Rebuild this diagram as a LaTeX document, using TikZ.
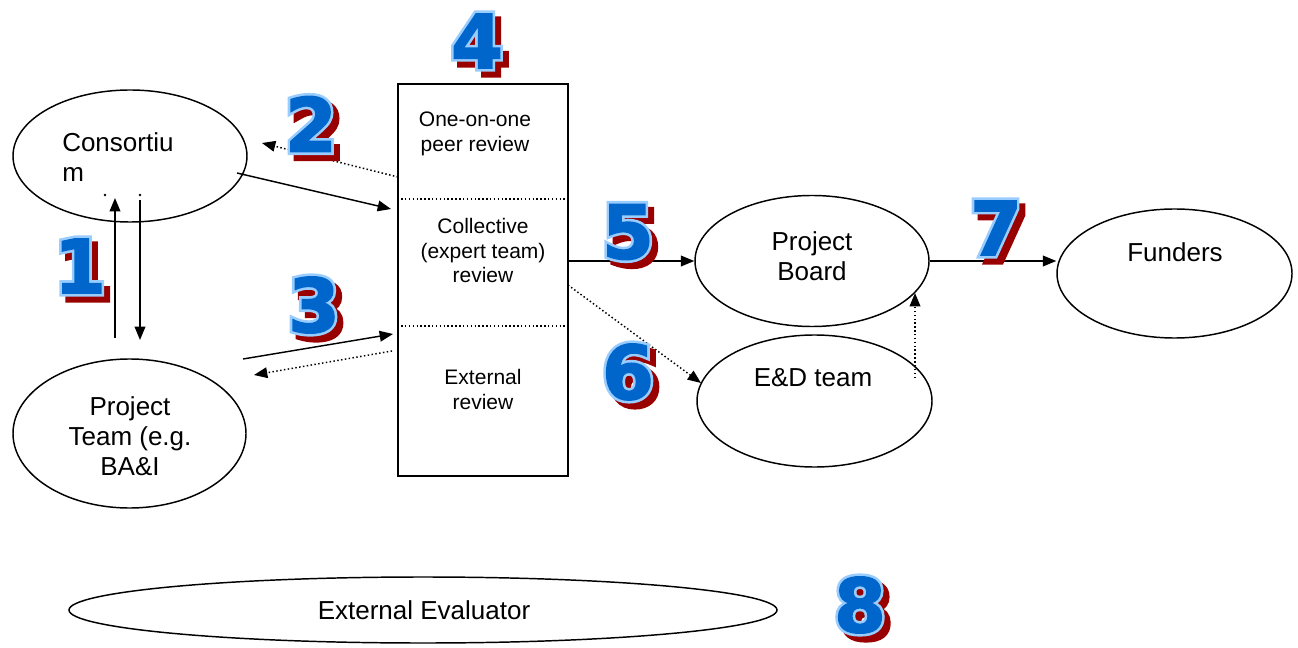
\documentclass[tikz,border=0pt]{standalone}
\usepackage{fontspec}
\setmainfont{Liberation Sans}
\newfontfamily\numfacefont{DejaVu Sans}[BoldFeatures={FakeBold=2}]
\newfontfamily\numrimfont{DejaVu Sans}[BoldFeatures={FakeBold=9}]
\usetikzlibrary{shapes.geometric,arrows.meta,calc}

\definecolor{numblue}{HTML}{0066CC}
\definecolor{numrim}{HTML}{99CCFF}
\definecolor{numred}{HTML}{990000}

\tikzset{
  oval/.style={draw, ellipse, line width=1.1pt, inner sep=0pt},
  reviewbox/.style={draw, line width=1.2pt, inner sep=0pt},
  bigtxt/.style={inner sep=0pt, font=\fontsize{19.5}{22.5}\selectfont, align=center},
  smalltxt/.style={inner sep=0pt, font=\fontsize{15.75}{18.4}\selectfont, align=center},
  arrowline/.style={line width=1.1pt, -{Triangle[length=10pt,width=8pt]}},
  dotline/.style={arrowline, dash pattern=on 1.1pt off 1.8pt},
  separator/.style={line width=1.1pt, dash pattern=on 1.1pt off 1.8pt},
  numshadow/.style={inner sep=0pt, text=numred, font=\numrimfont\bfseries\fontsize{56}{60}\selectfont},
  numedge/.style={inner sep=0pt, text=numrim, font=\numrimfont\bfseries\fontsize{56}{60}\selectfont},
  numface/.style={inner sep=0pt, text=numblue, font=\numfacefont\bfseries\fontsize{56}{60}\selectfont},
}

% step number: red drop shadow, pale blue rim, blue face
\newcommand\stepdigit[3]{%
  \node[numshadow] at ($(#2)+(6,6)$) {#3};
  \node[numedge] at (#2) {#3};
  \node[numface] (#1) at (#2) {#3};
}

\begin{document}
\begin{tikzpicture}[x=0.75pt, y=-0.75pt]
\useasboundingbox (0,0) rectangle (1298,648);

% ---- ovals ----
\node[oval, minimum width=175.5pt, minimum height=99pt] (cons) at (130,156) {};
\node[oval, minimum width=174.75pt, minimum height=111.75pt] (team) at (129.5,433.5) {};
\node[oval, minimum width=175.5pt, minimum height=98.25pt] (board) at (812,261) {};
\node[oval, minimum width=176.25pt, minimum height=99pt] (ed) at (814.5,401) {};
\node[oval, minimum width=176.25pt, minimum height=96.75pt] (fund) at (1174.5,273.5) {};
\node[oval, minimum width=531pt, minimum height=49.5pt] (eval) at (423,610) {};

% ---- oval texts ----
\node[bigtxt, align=left, anchor=west] (constxt) at (62,157) {Consortiu\\m};
\node[bigtxt] (teamtxt) at (130,436.5) {Project\\Team (e.g.\\BA\&I};
\node[bigtxt] (boardtxt) at (812,256.5) {Project\\Board};
\node[bigtxt] (edtxt) at (813,378) {E\&D team};
\node[bigtxt] (fundtxt) at (1175,252) {Funders};
\node[bigtxt] (evaltxt) at (424,610) {External Evaluator};

% ---- review box ----
\node[reviewbox, minimum width=127.5pt, minimum height=294pt] (box) at (483,280) {};
\path (box.north west) ++(0,116) coordinate (s1w);
\path (box.north east) ++(0,116) coordinate (s1e);
\path (box.north west) ++(0,243) coordinate (s2w);
\path (box.north east) ++(0,243) coordinate (s2e);
\draw[separator] (s1w) -- (s1e);
\draw[separator] (s2w) -- (s2e);

\node[smalltxt] (peer) at (475,134) {One-on-one\\peer review};
\node[smalltxt] (coll) at (483,250.5) {Collective\\(expert team)\\review};
\node[smalltxt] (extr) at (483,389.5) {External\\review};

% ---- connector end points ----
\coordinate (consout) at (237,173);
\coordinate (boxin1) at (391,209);
\coordinate (boxdot1) at (398,177);
\coordinate (consin) at (262,143);
\coordinate (teamout) at (243,359);
\coordinate (boxin2) at (393,334);
\coordinate (boxdot2) at (392,351);
\coordinate (teamin) at (254,375);
\coordinate (upfrom) at (115,338);
\coordinate (upto) at (115,198);
\coordinate (downfrom) at (140,200);
\coordinate (downto) at (140,340);
\coordinate (boxdot3) at (568,285);
\coordinate (edin) at (701,383);
\coordinate (edout) at (915,378);
\coordinate (boardin) at (915,293);

% ---- connectors ----
\draw[arrowline] (upfrom) -- (upto);
\draw[arrowline] (downfrom) -- (downto);
\draw[arrowline] (consout) -- (boxin1);
\draw[dotline] (boxdot1) -- (consin);
\draw[arrowline] (teamout) -- (boxin2);
\draw[dotline] (boxdot2) -- (teamin);
\draw[arrowline] (box.east |- board.west) -- (board.west);
\draw[dotline] (boxdot3) -- (edin);
\draw[dotline] (edout) -- (boardin);
\draw[arrowline] (board.east) -- (board.east -| fund.west);

% small marks under the consortium label
\fill (105,195) circle (1pt);
\fill (140,195) circle (1pt);

% ---- step numbers ----
\stepdigit{n1}{80,266}{1}
\stepdigit{n2}{311,124}{2}
\stepdigit{n3}{314,305}{3}
\stepdigit{n4}{477,41}{4}
\stepdigit{n5}{628,232}{5}
\stepdigit{n6}{628,372}{6}
\stepdigit{n7}{996,228}{7}
\stepdigit{n8}{860,605}{8}
\end{tikzpicture}
\end{document}
